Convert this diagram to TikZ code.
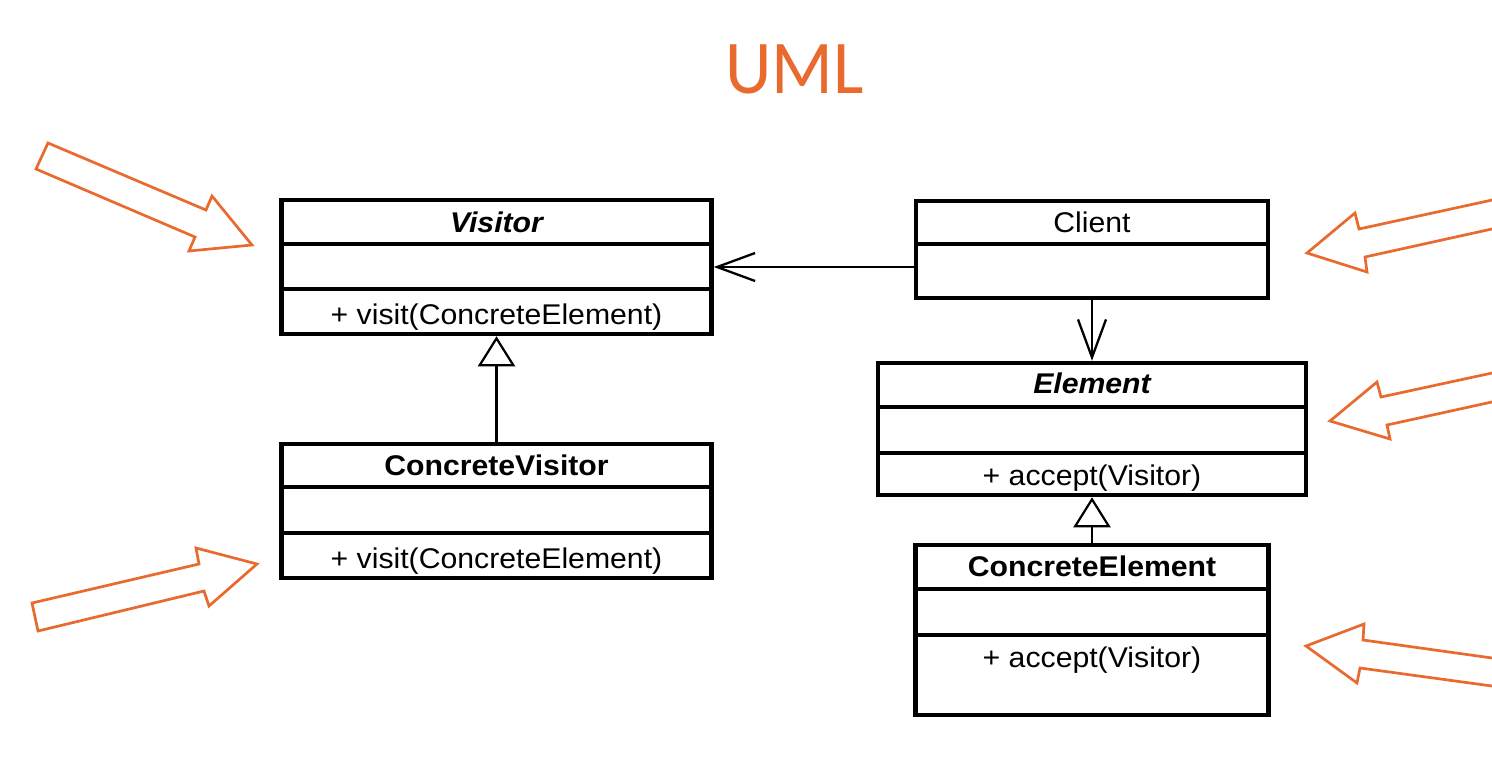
\documentclass[tikz,border=0pt]{standalone}
\usepackage{fontspec}
\setmainfont[FakeStretch=1.06]{Liberation Sans}
\newfontfamily\titlefont[FakeStretch=0.95]{Carlito}
\usetikzlibrary{arrows.meta}
\definecolor{umlorange}{RGB}{233,106,46}
\begin{document}
\begin{tikzpicture}[x=1pt,y=-1pt,
  umlbox/.style={draw=black, line width=4.5pt, fill=white, inner sep=0pt, rectangle},
  divider/.style={line width=4pt},
  lbl/.style={anchor=base, inner sep=0pt, font=\fontsize{28.5}{32}\selectfont},
  conn/.style={line width=2.3pt},
  assoc/.style={conn, -{Straight Barb[length=38pt,width=28pt]}},
  gen/.style={conn, -{Triangle[length=30pt,width=37pt,fill=white,line width=2.2pt]}},
  blockarrow/.style={draw=umlorange, line width=2.7pt, fill=white, line join=miter}]
\clip (0,0) rectangle (1492,777);
\fill[white] (0,0) rectangle (1492,777);

% title
\node[anchor=base, inner sep=0pt, text=umlorange, font=\titlefont\fontsize{76}{80}\selectfont] (title) at (794.5,93) {UML};

% boxes
\node[umlbox, minimum width=430pt, minimum height=134pt] (visitor) at (496.5,267) {};
\node[umlbox, minimum width=430pt, minimum height=134pt] (cvisitor) at (496.5,511) {};
\node[umlbox, minimum width=352pt, minimum height=97pt] (client) at (1092,249.5) {};
\node[umlbox, minimum width=428pt, minimum height=132pt] (element) at (1092,429) {};
\node[umlbox, minimum width=353pt, minimum height=170pt] (celement) at (1092,630) {};

% dividers
\draw[divider] (visitor.west |- 0,244) -- (visitor.east |- 0,244);
\draw[divider] (visitor.west |- 0,289) -- (visitor.east |- 0,289);
\draw[divider] (cvisitor.west |- 0,487) -- (cvisitor.east |- 0,487);
\draw[divider] (cvisitor.west |- 0,533) -- (cvisitor.east |- 0,533);
\draw[divider] (client.west |- 0,244) -- (client.east |- 0,244);
\draw[divider] (element.west |- 0,407) -- (element.east |- 0,407);
\draw[divider] (element.west |- 0,453) -- (element.east |- 0,453);
\draw[divider] (celement.west |- 0,589) -- (celement.east |- 0,589);
\draw[divider] (celement.west |- 0,635) -- (celement.east |- 0,635);

% labels
\node[lbl] (visitorname) at (496.5,232) {\bfseries\itshape Visitor};
\node[lbl] (visitorop) at (496.5,324) {+ visit(ConcreteElement)};
\node[lbl] (cvisitorname) at (496.5,475) {\bfseries ConcreteVisitor};
\node[lbl] (cvisitorop) at (496.5,568) {+ visit(ConcreteElement)};
\node[lbl] (clientname) at (1092,232) {Client};
\node[lbl] (elementname) at (1092,393) {\bfseries\itshape Element};
\node[lbl] (elementop) at (1092,485) {+ accept(Visitor)};
\node[lbl] (celementname) at (1092,576) {\bfseries ConcreteElement};
\node[lbl] (celementop) at (1092,667) {+ accept(Visitor)};

% connectors
\draw[assoc] ([yshift=-17.5pt]client.west) -- (visitor.east);
\draw[assoc] (client.south) -- (element.north);
\draw[gen] (cvisitor.north) -- (visitor.south);
\draw[gen] (celement.north) -- (element.south);

% orange block arrows
\draw[blockarrow] (48,143) -- (206,210) -- (212,196) -- (252,245) -- (189,251) -- (195,237) -- (36,169) -- cycle;
\draw[blockarrow] (32,603) -- (199,564) -- (196,548) -- (257,564) -- (209,606) -- (204,591) -- (38,631) -- cycle;
\draw[blockarrow] (1500,198.3) -- (1359,229) -- (1355,213) -- (1307,253) -- (1367,272) -- (1365,257) -- (1500,227.2);
\draw[blockarrow] (1500,371.3) -- (1381,397) -- (1377,382) -- (1330,421) -- (1390,439) -- (1387,425) -- (1500,400.2);
\draw[blockarrow] (1500,659.1) -- (1363,640) -- (1364,624) -- (1306,646) -- (1357,683) -- (1360,668) -- (1500,687.1);
\end{tikzpicture}
\end{document}
